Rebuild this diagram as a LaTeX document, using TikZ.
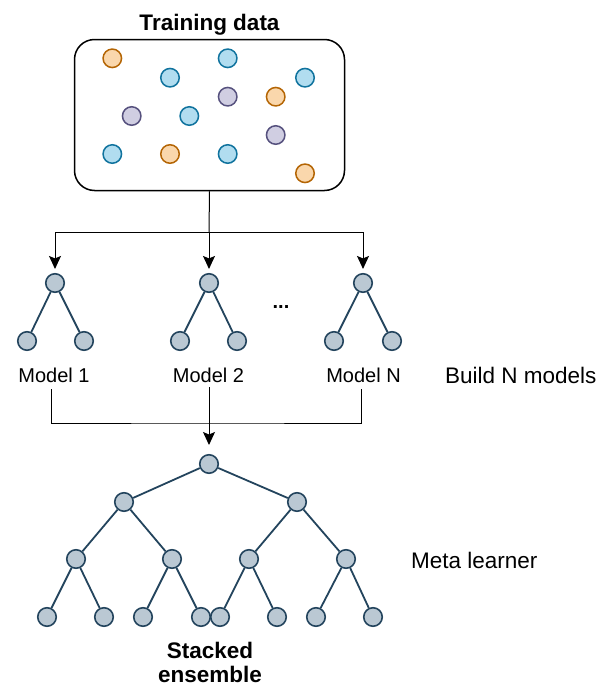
\documentclass[tikz,border=0pt]{standalone}
\usepackage{fontspec}
\setmainfont{Liberation Sans}
\usetikzlibrary{arrows.meta}

\definecolor{orangeF}{HTML}{FAD7AC}
\definecolor{orangeD}{HTML}{B46504}
\definecolor{blueF}{HTML}{B1DDF0}
\definecolor{blueD}{HTML}{10739E}
\definecolor{purpleF}{HTML}{D0CEE2}
\definecolor{purpleD}{HTML}{56517E}
\definecolor{treeF}{HTML}{BAC8D3}
\definecolor{treeD}{HTML}{23445D}

\tikzset{
  dot/.style={circle, minimum size=18.5pt, inner sep=0pt, line width=1.5pt},
  odot/.style={dot, fill=orangeF, draw=orangeD},
  bdot/.style={dot, fill=blueF, draw=blueD},
  pdot/.style={dot, fill=purpleF, draw=purpleD},
  tn/.style={circle, minimum size=18.5pt, inner sep=0pt, line width=1.6pt, fill=treeF, draw=treeD},
  branch/.style={draw=treeD, line width=1.8pt},
  link/.style={line width=1pt, draw=black},
  arr/.style={link, -{Stealth[length=13pt,width=12pt,inset=2.5pt]}},
  lbl/.style={font=\fontsize{20}{24}\selectfont, anchor=base, inner sep=0pt},
  side/.style={font=\fontsize{22.5}{26}\selectfont, anchor=base west, inner sep=0pt},
  title/.style={font=\fontsize{22.5}{26}\selectfont\bfseries, anchor=base, inner sep=0pt}
}

\begin{document}
\begin{tikzpicture}[x=1pt, y=-1pt]
\useasboundingbox (0,0) rectangle (601,688);

% training data box and its points
\node[title] (ttl) at (209.5,30) {Training data};
\node[draw, line width=1.5pt, rounded corners=20pt, minimum width=270pt, minimum height=151pt, inner sep=0pt] (data) at (209.5,115) {};

\node[odot] (p1)  at (112.3,58.3) {};
\node[bdot] (p2)  at (170,77.7) {};
\node[bdot] (p3)  at (227.7,58.3) {};
\node[bdot] (p4)  at (305,77.7) {};
\node[pdot] (p5)  at (227.7,96.7) {};
\node[odot] (p6)  at (275.7,96.7) {};
\node[pdot] (p7)  at (131.7,116) {};
\node[bdot] (p8)  at (189.3,116) {};
\node[pdot] (p9)  at (275.7,135) {};
\node[bdot] (p10) at (112.3,154) {};
\node[odot] (p11) at (170,154) {};
\node[bdot] (p12) at (227.7,154) {};
\node[odot] (p13) at (305,173.3) {};

% the N small models
\node[tn] (m1r) at (55,283) {};
\node[tn] (m1a) at (27,341) {};
\node[tn] (m1b) at (84,341) {};
\node[tn] (m2r) at (209,283) {};
\node[tn] (m2a) at (180,341) {};
\node[tn] (m2b) at (237,341) {};
\node[tn] (mNr) at (363,283) {};
\node[tn] (mNa) at (334,341) {};
\node[tn] (mNb) at (392,341) {};
\foreach \r in {m1,m2,mN}{
  \draw[branch] (\r r) -- (\r a);
  \draw[branch] (\r r) -- (\r b);
}
\node[font=\fontsize{20}{24}\selectfont\bfseries, anchor=base, inner sep=0pt] (dots) at (281,308) {...};

\node[lbl] (l1) at (54,382) {Model 1};
\node[lbl] (l2) at (208.5,382) {Model 2};
\node[lbl] (lN) at (363.5,382) {Model N};
\node[side] (build) at (445,383) {Build N models};

% fan-out from the data
\coordinate (split) at (209,232);
\draw[link] (data.south) -- (split);
\draw[arr, shorten >=4pt] (split) -- (m2r.north);
\draw[arr, shorten >=4pt] (split) -| (m1r.north);
\draw[arr, shorten >=4pt] (split) -| (mNr.north);

% gathering the models
\coordinate (b1) at (51,389);
\coordinate (bN) at (361,389);
\coordinate (b2) at (209,387);
\coordinate (join) at (209,423);
\coordinate (tip) at (209,445);
\draw[link] (b1) |- (join) -| (bN);
\draw[arr] (b2) -- (tip);

% the meta learner tree
\node[tn] (s0) at (209,464) {};
\node[tn] (s1) at (124,502) {};
\node[tn] (s2) at (297,502) {};
\node[tn] (s11) at (76,559) {};
\node[tn] (s12) at (172,559) {};
\node[tn] (s21) at (249,559) {};
\node[tn] (s22) at (346,559) {};
\node[tn] (s111) at (47,617) {};
\node[tn] (s112) at (104,617) {};
\node[tn] (s121) at (143,617) {};
\node[tn] (s122) at (201,617) {};
\node[tn] (s211) at (220,617) {};
\node[tn] (s212) at (277,617) {};
\node[tn] (s221) at (316,617) {};
\node[tn] (s222) at (373,617) {};
\draw[branch] (s0) -- (s1);
\draw[branch] (s0) -- (s2);
\foreach \p in {1,2}{
  \draw[branch] (s\p) -- (s\p1);
  \draw[branch] (s\p) -- (s\p2);
  \foreach \q in {1,2}{
    \draw[branch] (s\p\q) -- (s\p\q1);
    \draw[branch] (s\p\q) -- (s\p\q2);
  }
}

\node[side] (meta) at (411,568) {Meta learner};
\node[title] (st1) at (210,658) {Stacked};
\node[title] (st2) at (210,682) {ensemble};
\end{tikzpicture}
\end{document}
